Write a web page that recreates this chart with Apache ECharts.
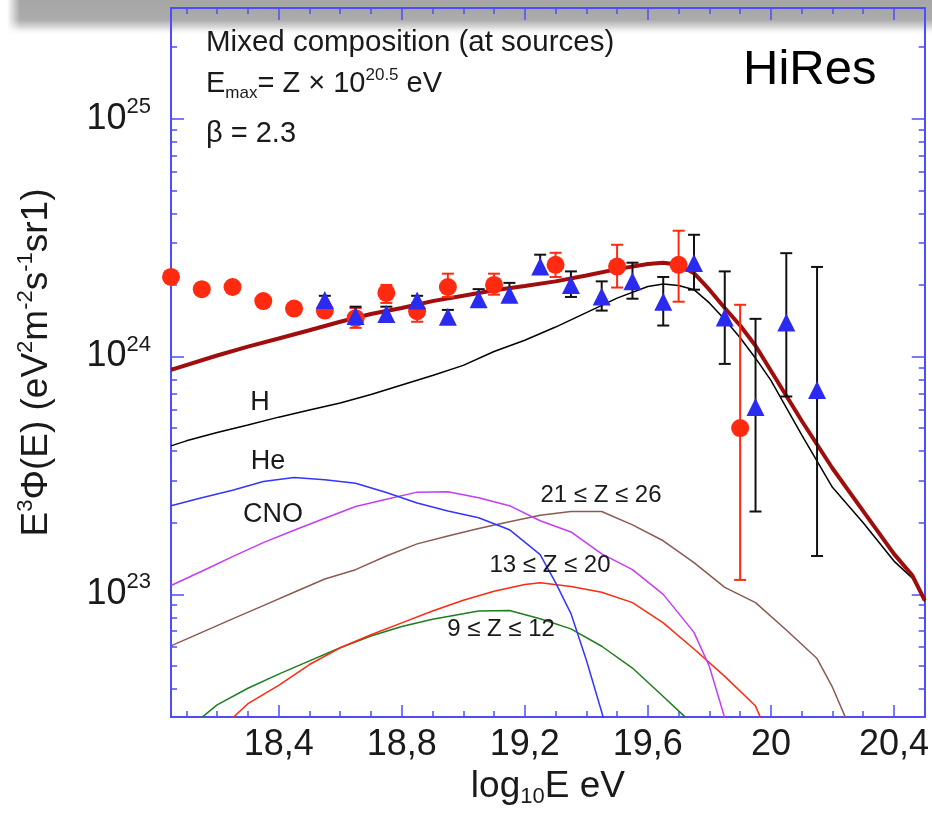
<!DOCTYPE html>
<html>
<head>
<meta charset="utf-8">
<script src="https://cdn.jsdelivr.net/npm/echarts@6/dist/echarts.min.js"></script>
<style>
html,body{margin:0;padding:0;background:#fff;}
#chart{width:932px;height:816px;}
</style>
</head>
<body>
<div id="chart"></div>
<script>
// ---------- data ----------
const energyTicks = [18.4, 18.8, 19.2, 19.6, 20, 20.4];
const energyMinorTicks = [18.1,18.2,18.3,18.5,18.6,18.7,18.9,19.0,19.1,19.3,19.4,19.5,19.7,19.8,19.9,20.1,20.2,20.3];
const fluxTicks = [1e23, 1e24, 1e25];
const fluxMinorTicks = [4e22,5e22,6e22,7e22,8e22,9e22,2e23,3e23,4e23,5e23,6e23,7e23,8e23,9e23,2e24,3e24,4e24,5e24,6e24,7e24,8e24,9e24,2e25];

// model curves: [log10 E, E^3 Phi]
const totalModel = [[18.05,8.79e23],[18.2,1.01e24],[18.3,1.10e24],[18.4,1.19e24],[18.5,1.29e24],[18.6,1.40e24],[18.7,1.51e24],[18.8,1.60e24],[18.9,1.71e24],[19.0,1.80e24],[19.1,1.90e24],[19.2,1.98e24],[19.3,2.07e24],[19.4,2.19e24],[19.5,2.33e24],[19.6,2.45e24],[19.65,2.48e24],[19.7,2.43e24],[19.75,2.24e24],[19.8,1.91e24],[19.85,1.60e24],[19.9,1.35e24],[19.95,1.11e24],[20.0,8.71e23],[20.1,5.37e23],[20.2,3.39e23],[20.3,2.24e23],[20.4,1.48e23],[20.46,1.20e23],[20.5,9.44e22]];
const hModel = [[18.05,4.21e23],[18.1,4.42e23],[18.2,4.79e23],[18.3,5.15e23],[18.4,5.56e23],[18.5,5.96e23],[18.6,6.38e23],[18.7,6.92e23],[18.8,7.59e23],[18.9,8.32e23],[19.0,9.18e23],[19.1,1.05e24],[19.2,1.17e24],[19.3,1.33e24],[19.4,1.53e24],[19.5,1.76e24],[19.6,1.97e24],[19.65,2.02e24],[19.7,1.99e24],[19.75,1.91e24],[19.8,1.68e24],[19.85,1.43e24],[19.9,1.20e24],[19.95,9.84e23],[20.0,7.94e23],[20.1,4.68e23],[20.2,2.82e23],[20.3,2.0e23],[20.4,1.38e23],[20.46,1.17e23],[20.5,9.33e22]];
const heModel = [[18.05,2.36e23],[18.15,2.55e23],[18.25,2.74e23],[18.35,2.98e23],[18.45,3.10e23],[18.55,3.03e23],[18.65,2.93e23],[18.75,2.68e23],[18.85,2.42e23],[18.95,2.24e23],[19.05,2.10e23],[19.15,1.87e23],[19.25,1.47e23],[19.3,1.12e23],[19.35,8.3e22],[19.4,5.3e22],[19.45,3.2e22],[19.5,1.8e22]];
const cnoModel = [[18.05,1.09e23],[18.15,1.25e23],[18.25,1.44e23],[18.35,1.65e23],[18.45,1.86e23],[18.55,2.09e23],[18.65,2.34e23],[18.75,2.51e23],[18.85,2.69e23],[18.95,2.70e23],[19.05,2.55e23],[19.15,2.36e23],[19.25,2.04e23],[19.35,1.83e23],[19.45,1.48e23],[19.55,1.27e23],[19.65,1.0e23],[19.75,6.92e22],[19.8,4.97e22],[19.85,3.02e22],[19.9,1.78e22]];
const ne_mgModel = [[18.1,2.69e22],[18.2,3.43e22],[18.3,4.03e22],[18.4,4.62e22],[18.5,5.25e22],[18.6,5.96e22],[18.7,6.68e22],[18.8,7.33e22],[18.9,7.85e22],[19.0,8.28e22],[19.05,8.51e22],[19.15,8.55e22],[19.25,7.89e22],[19.35,7.16e22],[19.45,6.05e22],[19.55,4.90e22],[19.65,3.72e22],[19.72,3.06e22],[19.75,2.75e22]];
const si_caModel = [[18.2,2.63e22],[18.3,3.47e22],[18.4,4.14e22],[18.5,5.07e22],[18.6,5.96e22],[18.7,6.76e22],[18.8,7.59e22],[18.9,8.51e22],[19.0,9.44e22],[19.1,1.03e23],[19.2,1.10e23],[19.25,1.12e23],[19.35,1.08e23],[19.45,1.02e23],[19.55,9.23e22],[19.65,7.59e22],[19.75,5.89e22],[19.85,4.52e22],[19.95,3.39e22],[20.0,2.40e22]];
const sc_feModel = [[18.05,6.07e22],[18.15,6.92e22],[18.25,7.89e22],[18.35,8.97e22],[18.45,1.02e23],[18.55,1.16e23],[18.65,1.27e23],[18.75,1.45e23],[18.85,1.63e23],[18.95,1.76e23],[19.05,1.89e23],[19.15,2.02e23],[19.25,2.15e23],[19.35,2.23e23],[19.45,2.23e23],[19.55,1.96e23],[19.65,1.68e23],[19.75,1.36e23],[19.85,1.07e23],[19.95,9.23e22],[20.05,7.08e22],[20.15,5.37e22],[20.2,4.07e22],[20.25,2.88e22]];

// measurements: [log10 E, value, low, high]
const redPoints = [[18.05,2.16e24,2.10e24,2.22e24],[18.15,1.92e24,1.88e24,1.96e24],[18.25,1.96e24,1.92e24,2.00e24],[18.35,1.71e24,1.67e24,1.75e24],[18.45,1.59e24,1.55e24,1.63e24],[18.55,1.56e24,1.51e24,1.61e24],[18.65,1.45e24,1.32e24,1.60e24],[18.75,1.85e24,1.68e24,2.00e24],[18.85,1.55e24,1.40e24,1.68e24],[18.95,1.96e24,1.78e24,2.23e24],[19.1,2.0e24,1.82e24,2.23e24],[19.3,2.43e24,2.16e24,2.73e24],[19.5,2.39e24,1.95e24,2.95e24],[19.7,2.43e24,1.70e24,3.38e24],[19.9,5.0e23,1.15e23,1.65e24]];
const bluePoints = [[18.55,1.73e24,1.66e24,1.80e24],[18.65,1.48e24,1.40e24,1.62e24],[18.75,1.51e24,1.41e24,1.62e24],[18.85,1.72e24,1.64e24,1.80e24],[18.95,1.47e24,1.38e24,1.57e24],[19.05,1.74e24,1.66e24,1.92e24],[19.15,1.82e24,1.72e24,2.04e24],[19.25,2.39e24,2.23e24,2.68e24],[19.35,2.0e24,1.78e24,2.28e24],[19.45,1.79e24,1.56e24,2.07e24],[19.55,2.07e24,1.75e24,2.48e24],[19.65,1.70e24,1.35e24,2.16e24],[19.75,2.47e24,1.91e24,3.25e24],[19.85,1.46e24,9.31e23,2.28e24],[19.95,6.13e23,2.23e23,1.44e24],[20.05,1.39e24,6.79e23,2.72e24],[20.15,7.24e23,1.45e23,2.38e24]];

// ---------- chart ----------
const FONT = 'Liberation Sans, Arial, Helvetica, sans-serif';
const AX = '#4d4dff';
const X_MIN = 18.05, X_MAX = 20.5, Y_MIN = 3.05e22, Y_MAX = 2.92e25;

function xAx(pos, major, showLine, withLabel) {
  const a = {
    type: 'value', min: X_MIN, max: X_MAX, position: pos,
    axisLine: {show: showLine, onZero: false, lineStyle: {color: AX, width: 2}},
    axisTick: {show: true, inside: true, length: major ? 12 : 6, customValues: major ? energyTicks : energyMinorTicks, lineStyle: {color: AX, width: 1.5}},
    axisLabel: {show: false},
    splitLine: {show: false}
  };
  if (withLabel) {
    a.axisLabel = {show: true, customValues: energyTicks, margin: 10, fontSize: 36, color: '#1a1a1a', fontFamily: FONT,
      formatter: v => String(v).replace('.', ',')};
    a.name = '{n|log}{sb|10}{n|E eV}';
    a.nameLocation = 'middle';
    a.nameGap = 46;
    a.nameTextStyle = {rich: {
      n: {fontSize: 37, color: '#1a1a1a', fontFamily: FONT},
      sb: {fontSize: 22, color: '#1a1a1a', fontFamily: FONT, padding: [22, 0, 0, 0]}
    }};
  }
  return a;
}
function yAx(pos, major, showLine, withLabel) {
  const a = {
    type: 'log', logBase: 10, min: Y_MIN, max: Y_MAX, position: pos,
    axisLine: {show: showLine, onZero: false, lineStyle: {color: AX, width: 2}},
    axisTick: {show: true, inside: true, length: major ? 13 : 6, customValues: major ? fluxTicks : fluxMinorTicks, lineStyle: {color: AX, width: 1.5}},
    axisLabel: {show: false},
    splitLine: {show: false}
  };
  if (withLabel) {
    a.axisLabel = {show: true, customValues: fluxTicks, margin: 20, fontFamily: FONT,
      formatter: v => '{b|10}{s|' + Math.round(Math.log10(v)) + '}',
      rich: {
        b: {fontSize: 36, color: '#1a1a1a', fontFamily: FONT},
        s: {fontSize: 22, color: '#1a1a1a', fontFamily: FONT, padding: [0, 0, 24, 0]}
      }};
    a.name = '{n|E}{s|3}{n|Φ(E) (eV}{s|2}{n|m}{s|-2}{n|s}{s|-1}{n|sr1)}';
    a.nameLocation = 'middle';
    a.nameGap = 112;
    a.nameRotate = 90;
    a.nameTextStyle = {rich: {
      n: {fontSize: 37, color: '#1a1a1a', fontFamily: FONT},
      s: {fontSize: 22, color: '#1a1a1a', fontFamily: FONT, padding: [0, 0, 22, 0]}
    }};
  }
  return a;
}

function errRender(color) {
  return function (params, api) {
    const x = api.value(0), lo = api.value(2), hi = api.value(3);
    const p1 = api.coord([x, hi]), p2 = api.coord([x, lo]);
    const w = 6;
    const st = {stroke: color, lineWidth: 2};
    return {type: 'group', children: [
      {type: 'line', shape: {x1: p1[0], y1: p1[1], x2: p2[0], y2: p2[1]}, style: st},
      {type: 'line', shape: {x1: p1[0] - w, y1: p1[1], x2: p1[0] + w, y2: p1[1]}, style: st},
      {type: 'line', shape: {x1: p2[0] - w, y1: p2[1], x2: p2[0] + w, y2: p2[1]}, style: st}
    ]};
  };
}

function lineS(name, data, color, width, z) {
  return {name, type: 'line', data, symbol: 'none', clip: true, z: z || 2,
    lineStyle: {color, width}, xAxisIndex: 0, yAxisIndex: 0};
}

const txt = (text, x, y, size, align) => ({
  type: 'text', z: 100, x, y,
  style: {text, fontSize: size, fontFamily: FONT, fill: '#1a1a1a', textAlign: align || 'center', textVerticalAlign: 'middle'}
});

const option = {
  animation: false,
  backgroundColor: '#ffffff',
  grid: {left: 171, right: 6, top: 8, bottom: 99, containLabel: false},
  xAxis: [xAx('bottom', true, true, true), xAx('bottom', false, false, false), xAx('top', true, true, false), xAx('top', false, false, false)],
  yAxis: [yAx('left', true, true, true), yAx('left', false, false, false), yAx('right', true, true, false), yAx('right', false, false, false)],
  graphic: [
    {type: 'rect', z: -10, silent: true, shape: {x: 0, y: 0, width: 932, height: 36},
      style: {fill: new echarts.graphic.LinearGradient(0, 0, 0, 1, [
        {offset: 0, color: '#a6a6a6'}, {offset: 0.55, color: '#ababab'}, {offset: 0.75, color: '#d8d8d8'}, {offset: 1, color: 'rgba(255,255,255,0)'}])}},
    {type: 'rect', z: -9, silent: true, shape: {x: 0, y: 0, width: 20, height: 36},
      style: {fill: new echarts.graphic.LinearGradient(0, 0, 1, 0, [
        {offset: 0, color: '#ffffff'}, {offset: 0.35, color: '#ffffff'}, {offset: 1, color: 'rgba(255,255,255,0)'}])}},
    txt('Mixed composition (at sources)', 206, 43, 29.5, 'left'),
    {type: 'text', z: 100, x: 206, y: 84, style: {
      text: '{n|E}{sb|max}{n|= Z × 10}{sp|20.5}{n| eV}', textAlign: 'left', textVerticalAlign: 'middle',
      rich: {
        n: {fontSize: 29, fontFamily: FONT, fill: '#1a1a1a'},
        sb: {fontSize: 17, fontFamily: FONT, fill: '#1a1a1a', padding: [18, 0, 0, 0]},
        sp: {fontSize: 17, fontFamily: FONT, fill: '#1a1a1a', padding: [0, 0, 18, 0]}
      }}},
    txt('β = 2.3', 206, 134, 29, 'left'),
    {type: 'text', z: 100, x: 743, y: 70, style: {text: 'HiRes', fontSize: 49, fontFamily: FONT, fill: '#000', textAlign: 'left', textVerticalAlign: 'middle'}},
    txt('H', 260, 403, 27),
    txt('He', 268, 462, 27),
    txt('CNO', 273, 515, 27),
    txt('21 ≤ Z ≤ 26', 601, 495, 24),
    txt('13 ≤ Z ≤ 20', 550, 565, 24),
    txt('9 ≤ Z ≤ 12', 501, 629, 24)
  ],
  series: [
    lineS('9≤Z≤12', ne_mgModel, '#1e7d1e', 1.5),
    lineS('13≤Z≤20', si_caModel, '#ff2a10', 1.5),
    lineS('21≤Z≤26', sc_feModel, '#8c5a50', 1.5),
    lineS('CNO', cnoModel, '#c63cf5', 1.5),
    lineS('He', heModel, '#3434ff', 1.5),
    lineS('H', hModel, '#000000', 1.5),
    lineS('Total', totalModel, '#a00d0d', 4, 3),
    {type: 'custom', name: 'redErr', data: redPoints, renderItem: errRender('#ff2a10'), encode: {x: 0, y: [2, 3]}, z: 4, clip: true},
    {type: 'custom', name: 'blueErr', data: bluePoints, renderItem: errRender('#111111'), encode: {x: 0, y: [2, 3]}, z: 4, clip: true},
    {type: 'scatter', name: 'red', data: redPoints, symbol: 'circle', symbolSize: 18, itemStyle: {color: '#ff2a10', opacity: 1}, encode: {x: 0, y: 1}, z: 5},
    {type: 'scatter', name: 'blue', data: bluePoints, symbol: 'triangle', symbolSize: 18, itemStyle: {color: '#2a2af0', opacity: 1}, encode: {x: 0, y: 1}, z: 6}
  ]
};

const chart = echarts.init(document.getElementById('chart'), null, {renderer: 'canvas'});
chart.setOption(option);
</script>
</body>
</html>
